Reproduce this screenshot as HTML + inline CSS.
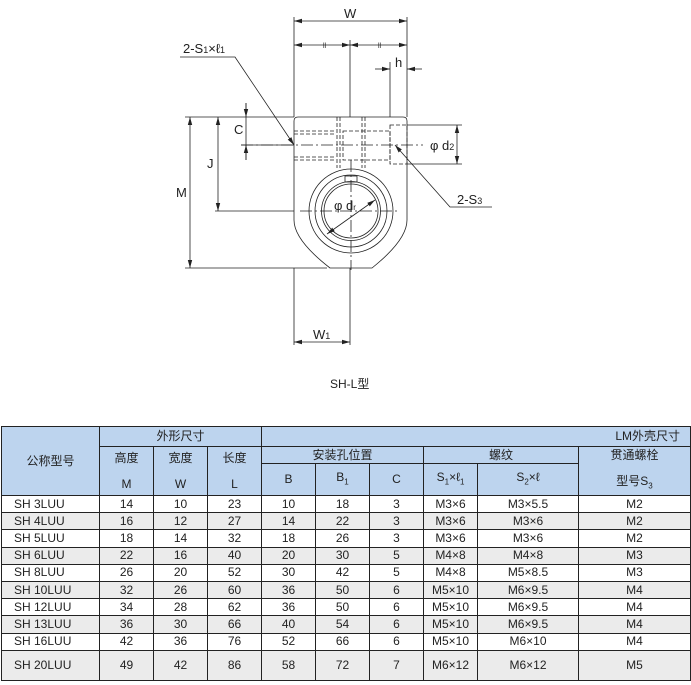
<!DOCTYPE html>
<html><head><meta charset="utf-8"><style>
body{margin:0;background:#fff;width:691px;height:685px;position:relative;overflow:hidden;font-family:"Liberation Sans","Noto Sans CJK SC",sans-serif}
svg{position:absolute;left:0;top:0}
table{position:absolute;left:1px;top:426px;border-collapse:collapse;table-layout:fixed;font-family:"Liberation Sans","Noto Sans CJK SC",sans-serif;font-size:12px;color:#222}
td{border:1px solid #222;text-align:center;padding:0;line-height:13px;overflow:hidden;white-space:nowrap}
.h td{background:#bdd4ee}
tr.d td{height:16.2px}
tr.g td{background:#ebebeb}
td.n{text-align:left;padding-left:12px}
</style></head><body>
<svg width="691" height="420" viewBox="0 0 691 420" font-family="Liberation Sans, sans-serif" fill="none" stroke="#222" stroke-width="0.8">
<defs><marker id="a" markerWidth="8" markerHeight="6" refX="8" refY="3" orient="auto-start-reverse" markerUnits="userSpaceOnUse"><path d="M0,0.8 L8,3 L0,5.2z" fill="#222" stroke="none"/></marker></defs>
<path d="M298,117 H403 Q407,117 407,121 V220 Q407,240 372,268 H330 Q294,240 294,220 V121 Q294,117 298,117Z"/>
<circle cx="351" cy="211" r="42"/><circle cx="351" cy="211" r="36"/><circle cx="351" cy="211" r="29.5"/><circle cx="351" cy="211" r="27"/>
<rect x="345" y="176" width="12" height="6"/>
<g stroke-dasharray="4,2">
<path d="M294,131H336M294,134H336M294,157H336M294,160H336"/>
<path d="M337,117V168M340,117V168M362,117V168M365,117V168"/>
<rect x="343" y="131" width="47" height="29"/>
<rect x="390" y="125" width="17" height="39"/>
</g>
<g stroke-dasharray="12,3,2,3"><path d="M241,145H423M300,211H400M351,160V270"/></g>
<path d="M294,17V117M407,17V117M350,40V117M390,62V117M407,62V70M185,117H294M185,268H327M215,211H294M241,145H294M407,125H462M407,164H462M246,103V160M294,268V345M350,268V345"/>
<path d="M294,21H407" marker-start="url(#a)" marker-end="url(#a)"/>
<path d="M294,45H350" marker-start="url(#a)" marker-end="url(#a)"/>
<path d="M350,45H407" marker-start="url(#a)" marker-end="url(#a)"/>
<path d="M375,69H390" marker-end="url(#a)"/><path d="M422,69H407" marker-end="url(#a)"/>
<path d="M246,103V117" marker-end="url(#a)"/><path d="M246,160V145" marker-end="url(#a)"/>
<path d="M218,117V211" marker-start="url(#a)" marker-end="url(#a)"/>
<path d="M190,117V268" marker-start="url(#a)" marker-end="url(#a)"/>
<path d="M457,125V164" marker-start="url(#a)" marker-end="url(#a)"/>
<path d="M294,342H350" marker-start="url(#a)" marker-end="url(#a)"/>
<path d="M327,234L375,200" marker-start="url(#a)" marker-end="url(#a)"/>
<path d="M180,57H235L294,145" marker-end="url(#a)"/>
<path d="M492,207H450L395,145" marker-end="url(#a)"/>
<g fill="#222" stroke="none" font-size="13">
<text x="344" y="18">W</text>
<text x="323" y="48" font-size="7">ll</text><text x="378" y="48" font-size="7">ll</text>
<text x="395" y="67">h</text>
<text x="234" y="134">C</text>
<text x="207" y="168">J</text>
<text x="176" y="197">M</text>
<text x="183" y="53">2-S<tspan font-size="9">1</tspan>×ℓ<tspan font-size="9">1</tspan></text>
<text x="430" y="150">φ d<tspan font-size="9">2</tspan></text>
<text x="457" y="204">2-S<tspan font-size="9">3</tspan></text>
<text x="334" y="210">φ d<tspan font-size="8">r</tspan></text>
<text x="313" y="339">W<tspan font-size="9">1</tspan></text>
<text x="330" y="388" font-size="12" font-family="Liberation Sans, Noto Sans CJK SC, sans-serif">SH-L型</text>
</g>
</svg>
<table>
<colgroup><col style="width:98px"><col style="width:54px"><col style="width:54px"><col style="width:54px"><col style="width:54px"><col style="width:54px"><col style="width:54px"><col style="width:54px"><col style="width:101px"><col style="width:112px"></colgroup>
<tr class="h" style="height:20px"><td rowspan="3">公称型号</td><td colspan="3">外形尺寸</td><td colspan="6" style="text-align:right;padding-right:10px">LM外壳尺寸</td></tr>
<tr class="h" style="height:17px"><td rowspan="2">高度<br><br>M</td><td rowspan="2">宽度<br><br>W</td><td rowspan="2">长度<br><br>L</td><td colspan="3">安装孔位置</td><td colspan="2">螺纹</td><td rowspan="2">贯通螺栓<br><br>型号S<sub style="font-size:8px">3</sub></td></tr>
<tr class="h" style="height:32px"><td>B</td><td>B<sub style="font-size:8px">1</sub></td><td>C</td><td>S<sub style="font-size:8px">1</sub>×ℓ<sub style="font-size:8px">1</sub></td><td>S<sub style="font-size:8px">2</sub>×ℓ</td></tr>
<tr class="d"><td class="n">SH 3LUU</td><td>14</td><td>10</td><td>23</td><td>10</td><td>18</td><td>3</td><td>M3×6</td><td>M3×5.5</td><td>M2</td></tr>
<tr class="d g"><td class="n">SH 4LUU</td><td>16</td><td>12</td><td>27</td><td>14</td><td>22</td><td>3</td><td>M3×6</td><td>M3×6</td><td>M2</td></tr>
<tr class="d"><td class="n">SH 5LUU</td><td>18</td><td>14</td><td>32</td><td>18</td><td>26</td><td>3</td><td>M3×6</td><td>M3×6</td><td>M2</td></tr>
<tr class="d g"><td class="n">SH 6LUU</td><td>22</td><td>16</td><td>40</td><td>20</td><td>30</td><td>5</td><td>M4×8</td><td>M4×8</td><td>M3</td></tr>
<tr class="d"><td class="n">SH 8LUU</td><td>26</td><td>20</td><td>52</td><td>30</td><td>42</td><td>5</td><td>M4×8</td><td>M5×8.5</td><td>M3</td></tr>
<tr class="d g"><td class="n">SH 10LUU</td><td>32</td><td>26</td><td>60</td><td>36</td><td>50</td><td>6</td><td>M5×10</td><td>M6×9.5</td><td>M4</td></tr>
<tr class="d"><td class="n">SH 12LUU</td><td>34</td><td>28</td><td>62</td><td>36</td><td>50</td><td>6</td><td>M5×10</td><td>M6×9.5</td><td>M4</td></tr>
<tr class="d g"><td class="n">SH 13LUU</td><td>36</td><td>30</td><td>66</td><td>40</td><td>54</td><td>6</td><td>M5×10</td><td>M6×9.5</td><td>M4</td></tr>
<tr class="d"><td class="n">SH 16LUU</td><td>42</td><td>36</td><td>76</td><td>52</td><td>66</td><td>6</td><td>M5×10</td><td>M6×10</td><td>M4</td></tr>
<tr class="g" style="height:30px"><td class="n">SH 20LUU</td><td>49</td><td>42</td><td>86</td><td>58</td><td>72</td><td>7</td><td>M6×12</td><td>M6×12</td><td>M5</td></tr>
</table>
</body></html>
